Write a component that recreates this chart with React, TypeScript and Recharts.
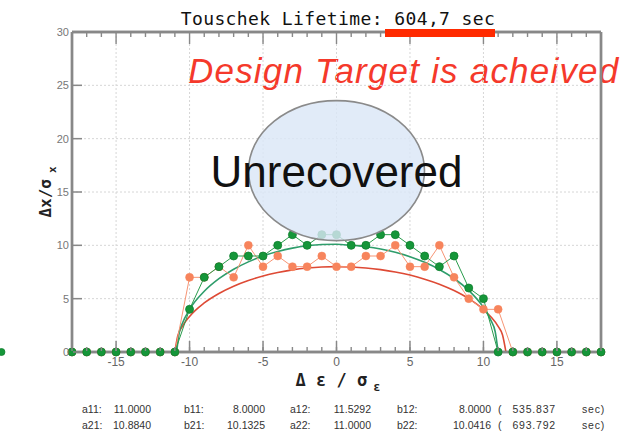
import React from 'react';
import { LineChart, Line, XAxis, YAxis, CartesianGrid, ReferenceDot, ReferenceLine } from 'recharts';

// axis ticks
const xMajor = [-15, -10, -5, 0, 5, 10, 15];
const xMinor = [-18, -17, -16, -15, -14, -13, -12, -11, -10, -9, -8, -7, -6, -5, -4, -3, -2, -1, 0,
  1, 2, 3, 4, 5, 6, 7, 8, 9, 10, 11, 12, 13, 14, 15, 16, 17, 18];
const yMajor = [0, 5, 10, 15, 20, 25, 30];
const yMinor = [0, 1, 2, 3, 4, 5, 6, 7, 8, 9, 10, 11, 12, 13, 14, 15, 16, 17, 18, 19, 20,
  21, 22, 23, 24, 25, 26, 27, 28, 29, 30];

// tracked points, one per integer Δε/σε from -18 to 18
const scanX = xMinor;
const greenScan = [0, 0, 0, 0, 0, 0, 0, 0, 4, 7, 8, 9, 9, 9, 10, 11, 10, 11, 11,
  10, 10, 11, 11, 10, 9, 8, 9, 6, 5, 0, 0, 0, 0, 0, 0, 0, 0];
const orangeScan = [0, 0, 0, 0, 0, 0, 0, 0, 7, 7, 8, 7, 10, 8, 9, 8, 8, 9, 8,
  8, 9, 9, 10, 8, 8, 10, 7, 5, 4, 4, 0, 0, 0, 0, 0, 0, 0];
// a lone green point sitting left of the frame
const strayGreen = { x: -22.8, y: 0 };

// fitted envelopes
const redFitX = [-11, -10.8, -10.5, -10, -9, -8, -7, -6, -5, -4, -3, -2, -1, 0,
  1, 2, 3, 4, 5, 6, 7, 8, 9, 10, 10.5, 11, 11.3, 11.53];
const redFitY = [0, 1.52, 2.38, 3.33, 4.6, 5.49, 6.17, 6.7, 7.13, 7.45, 7.7, 7.87, 7.97, 8,
  7.97, 7.88, 7.72, 7.5, 7.21, 6.83, 6.36, 5.76, 5.0, 3.98, 3.31, 2.4, 1.59, 0];
const greenFitX = [-10.88, -10.7, -10.5, -10, -9, -8, -7, -6, -5, -4, -3, -2, -1, 0,
  1, 2, 3, 4, 5, 6, 7, 8, 9, 10, 10.5, 10.8, 11];
const greenFitY = [0, 1.83, 2.65, 3.99, 5.69, 6.87, 7.76, 8.45, 9.0, 9.42, 9.74, 9.96, 10.08, 10.1,
  10.0, 9.87, 9.66, 9.35, 8.94, 8.41, 7.74, 6.89, 5.77, 4.18, 2.99, 1.9, 0];

// fit parameters printed under the plot
const fitLabels1 = ['a11:', 'b11:', 'a12:', 'b12:'];
const fitValues1 = ['11.0000', '8.0000', '11.5292', '8.0000'];
const fitLabels2 = ['a21:', 'b21:', 'a22:', 'b22:'];
const fitValues2 = ['10.8840', '10.1325', '11.0000', '10.0416'];
const lifetimes = ['535.837', '693.792'];

const greenData = scanX.map((x, i) => ({ x, y: greenScan[i] }));
const orangeData = scanX.map((x, i) => ({ x, y: orangeScan[i] }));
const redFit = redFitX.map((x, i) => ({ x, y: redFitY[i] }));
const greenFit = greenFitX.map((x, i) => ({ x, y: greenFitY[i] }));

const AXIS = '#888888';
const TICK_FONT = "'Liberation Sans', sans-serif";
const MONO = "'DejaVu Sans Mono', monospace";

type TickProps = { x?: number; y?: number; payload?: { value: number } };

const isMajor = (v: number) => v % 5 === 0;

function BottomLabelTick({ x = 0, y = 0, payload }: TickProps) {
  const v = payload?.value ?? 0;
  return (
    <g>
      <path d={`M${x},${y - 1}V${y - 11}`} stroke={AXIS} strokeWidth={1.5} fill="none" />
      <text x={x} y={y + 14} textAnchor="middle" fontSize={12} fill="#666" fontFamily={TICK_FONT}>
        {v}
      </text>
    </g>
  );
}

function BottomMinorTick({ x = 0, y = 0 }: TickProps) {
  return <path d={`M${x},${y - 2}V${y - 6}`} stroke={AXIS} strokeWidth={1.4} fill="none" />;
}

function TopTick({ x = 0, y = 0, payload }: TickProps) {
  const len = isMajor(payload?.value ?? 1) ? 11 : 4;
  return <path d={`M${x},${y + 1}V${y + 1 + len}`} stroke={AXIS} strokeWidth={1.4} fill="none" />;
}

function LeftLabelTick({ x = 0, y = 0, payload }: TickProps) {
  const v = payload?.value ?? 0;
  return (
    <g>
      <path d={`M${x + 1},${y}H${x + 10}`} stroke={AXIS} strokeWidth={1.5} fill="none" />
      <text x={x - 3} y={y + 4} textAnchor="end" fontSize={11} fill="#777" fontFamily={TICK_FONT}>
        {v}
      </text>
    </g>
  );
}

function LeftMinorTick({ x = 0, y = 0 }: TickProps) {
  return <path d={`M${x + 2},${y}H${x + 6}`} stroke={AXIS} strokeWidth={1.4} fill="none" />;
}

function RightTick({ x = 0, y = 0, payload }: TickProps) {
  const len = isMajor(payload?.value ?? 1) ? 9 : 4;
  return <path d={`M${x - 1},${y}H${x - 1 - len}`} stroke={AXIS} strokeWidth={1.4} fill="none" />;
}

function Unrecovered(props: any) {
  const { cx, cy } = props;
  return (
    <g>
      <ellipse cx={cx} cy={cy} rx={88} ry={70} fill="#dbe7f6" fillOpacity={0.82} stroke="#8a8a8a" strokeWidth={1.6} />
      <text x={cx} y={cy + 16} textAnchor="middle" fontSize={44} fill="#111"
        fontFamily="'Liberation Sans', Arial, sans-serif">
        Unrecovered
      </text>
    </g>
  );
}

function FitLine({ labels, values, life, top }: { labels: string[]; values: string[]; life: string; top: number }) {
  const labelX = [82, 184, 290, 397];
  const valueEnd = [151, 265, 371, 491];
  const base: React.CSSProperties = { position: 'absolute', top, fontSize: 10.5, lineHeight: '12px', color: '#333',
    fontFamily: TICK_FONT, whiteSpace: 'pre' };
  return (
    <>
      {labels.map((l, i) => (
        <span key={'l' + i} style={{ ...base, left: labelX[i] }}>{l}</span>
      ))}
      {values.map((v, i) => (
        <span key={'v' + i} style={{ ...base, left: valueEnd[i] - 60, width: 60, textAlign: 'right' }}>{v}</span>
      ))}
      <span style={{ ...base, left: 498 }}>(</span>
      <span style={{ ...base, left: 496, width: 60, textAlign: 'right', letterSpacing: 0.8 }}>{life}</span>
      <span style={{ ...base, left: 582, letterSpacing: 0.8 }}>sec)</span>
    </>
  );
}

const frameLine = { stroke: AXIS, strokeWidth: 2.4, ifOverflow: 'visible' as const };

export default function App() {
  return (
    <div style={{ position: 'relative', width: 625, height: 440, background: '#fff', overflow: 'hidden' }}>
      <style>{'body{margin:0}'}</style>
      <div style={{ position: 'absolute', left: 188, top: 53, fontSize: 35, lineHeight: '35px', fontStyle: 'italic',
        color: '#f5392b', fontFamily: "'Liberation Sans', Arial, sans-serif", letterSpacing: 1.2, whiteSpace: 'nowrap' }}>
        Design Target is acheived
      </div>
      <div style={{ position: 'absolute', left: 0, top: 0 }}>
        <LineChart width={625} height={440} data={greenData} margin={{ top: 31, right: 23, bottom: 86, left: 70 }}>
          <CartesianGrid stroke="#d6d6d6" strokeDasharray="2 2" />
          <ReferenceLine x={-18} {...frameLine} />
          <ReferenceLine x={18} {...frameLine} />
          <ReferenceLine y={0} {...frameLine} />
          <ReferenceLine y={30} {...frameLine} />
          <XAxis type="number" dataKey="x" domain={[-18, 18]} ticks={xMajor} interval={0} height={1}
            tickSize={0} tickMargin={0} tickLine={false} tick={<BottomLabelTick />}
            axisLine={{ stroke: AXIS, strokeWidth: 2.4 }} />
          <XAxis xAxisId="xb" type="number" dataKey="x" domain={[-18, 18]} ticks={xMinor} interval={0} height={1}
            tickSize={0} tickMargin={0} tickLine={false} tick={<BottomMinorTick />} axisLine={false} />
          <XAxis xAxisId="xt" orientation="top" type="number" dataKey="x" domain={[-18, 18]} ticks={xMinor} interval={0}
            height={1} tickSize={0} tickMargin={0} tickLine={false} tick={<TopTick />}
            axisLine={{ stroke: AXIS, strokeWidth: 2.4 }} />
          <YAxis type="number" domain={[0, 30]} ticks={yMajor} interval={0} width={1}
            tickSize={0} tickMargin={0} tickLine={false} tick={<LeftLabelTick />}
            axisLine={{ stroke: AXIS, strokeWidth: 2.4 }} />
          <YAxis yAxisId="yl" type="number" domain={[0, 30]} ticks={yMinor} interval={0} width={1}
            tickSize={0} tickMargin={0} tickLine={false} tick={<LeftMinorTick />} axisLine={false} />
          <YAxis yAxisId="yr" orientation="right" type="number" domain={[0, 30]} ticks={yMinor} interval={0} width={1}
            tickSize={0} tickMargin={0} tickLine={false} tick={<RightTick />}
            axisLine={{ stroke: AXIS, strokeWidth: 2.4 }} />
          <Line data={redFit} dataKey="y" type="monotone" stroke="#de4a35" strokeWidth={1.6} dot={false}
            isAnimationActive={false} />
          <Line data={greenFit} dataKey="y" type="monotone" stroke="#2e9d6b" strokeWidth={1.6} dot={false}
            isAnimationActive={false} />
          <Line data={orangeData} dataKey="y" type="linear" stroke="#f79575" strokeWidth={1}
            dot={{ r: 4, fill: '#f7845c', stroke: '#f7845c', strokeWidth: 0.5 }} isAnimationActive={false} />
          <Line data={greenData} dataKey="y" type="linear" stroke="#2a9c4c" strokeWidth={1}
            dot={{ r: 4, fill: '#159639', stroke: '#0f7f2e', strokeWidth: 0.8 }} isAnimationActive={false} />
          <ReferenceDot x={strayGreen.x} y={strayGreen.y} r={3.5} fill="#159639" stroke="#0f7f2e" strokeWidth={0.8}
            ifOverflow="visible" />
          <ReferenceDot x={0} y={17} r={70} shape={(p: any) => <Unrecovered {...p} />} ifOverflow="visible" />
        </LineChart>
      </div>
      <div style={{ position: 'absolute', left: 0, width: 676, top: 9, textAlign: 'center', fontSize: 18,
        lineHeight: '20px', fontFamily: MONO, color: '#111', letterSpacing: 0.4, whiteSpace: 'pre' }}>
        Touschek Lifetime: 604,7 sec
      </div>
      <div style={{ position: 'absolute', left: 385, top: 29, width: 110, height: 8, background: '#ff2a00' }} />
      <div style={{ position: 'absolute', left: 0, width: 676, top: 372, textAlign: 'center', fontFamily: MONO,
        fontWeight: 'bold', fontSize: 17, lineHeight: '17px', color: '#222', whiteSpace: 'pre' }}>
        {'Δ ε / σ'}<span style={{ fontSize: 12, position: 'relative', top: 5, marginLeft: 6 }}>ε</span>
      </div>
      <div style={{ position: 'absolute', left: 45, top: 192, transform: 'translate(-50%, -50%) rotate(-90deg)',
        fontFamily: MONO, fontWeight: 'bold', fontSize: 16, color: '#222', whiteSpace: 'pre' }}>
        {'Δx/σ'}<span style={{ fontSize: 11, position: 'relative', top: 5, marginLeft: 6 }}>x</span>
      </div>
      <FitLine labels={fitLabels1} values={fitValues1} life={lifetimes[0]} top={403} />
      <FitLine labels={fitLabels2} values={fitValues2} life={lifetimes[1]} top={419} />
    </div>
  );
}
